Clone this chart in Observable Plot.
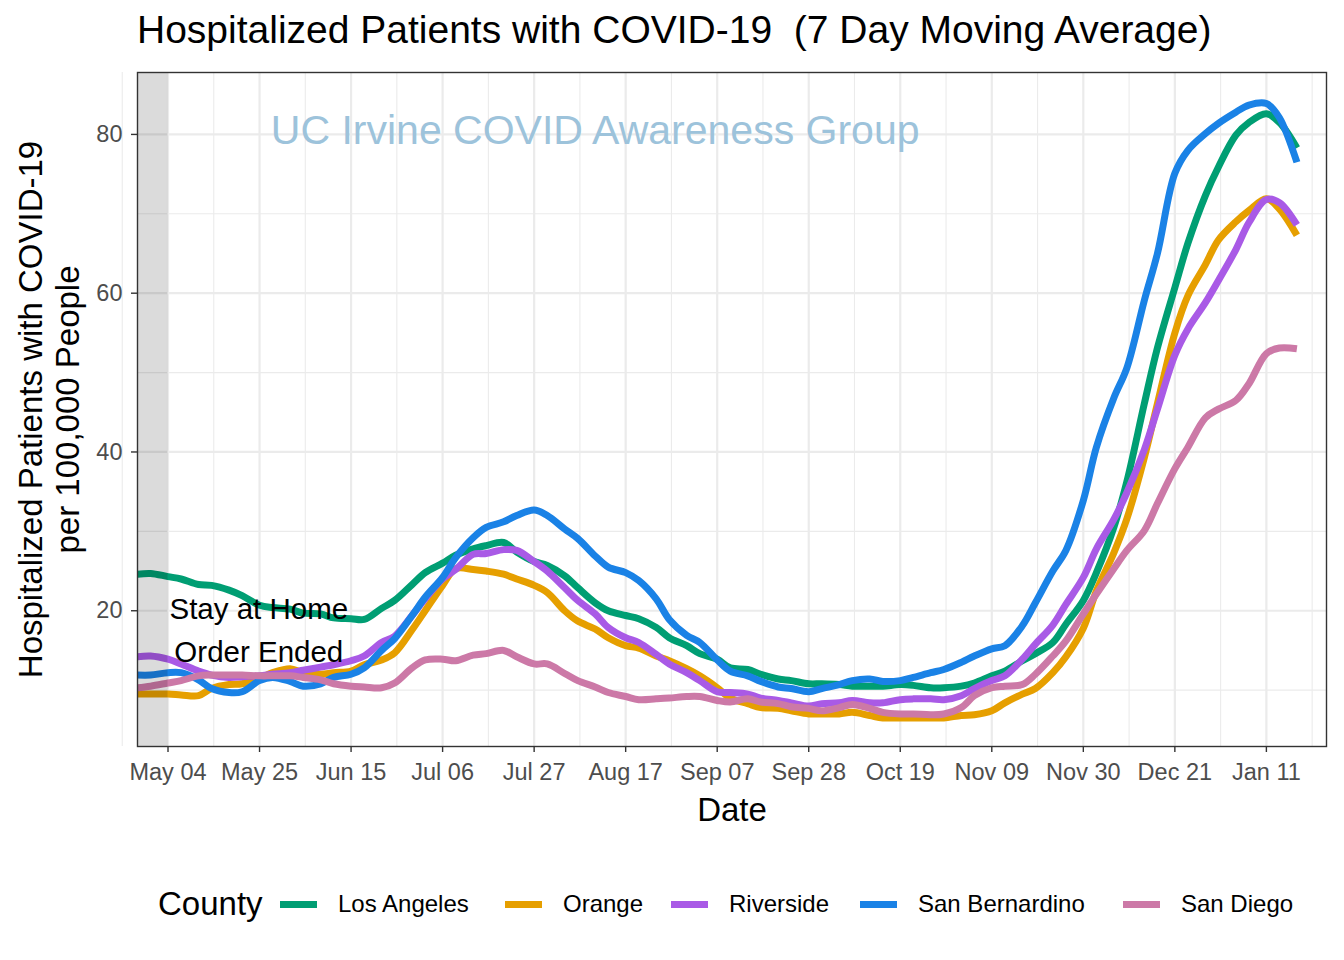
<!DOCTYPE html>
<html>
<head>
<meta charset="utf-8">
<script src="https://cdn.jsdelivr.net/npm/d3@7"></script>
<script src="https://cdn.jsdelivr.net/npm/@observablehq/plot@0.6"></script>
<style>
  html, body { margin: 0; padding: 0; background: #fff; }
  body { width: 1344px; height: 960px; overflow: hidden; font-family: "Liberation Sans", Arial, sans-serif; }
  #title { position: relative; height: 62px; }
  #title span { position: absolute; left: 137px; top: 10px; font-size: 39px; line-height: 1; color: #000; white-space: pre; }
  #legend { position: relative; height: 98px; }
  #legend .lt { position: absolute; font-size: 33px; line-height: 1; top: 25px; color: #000; }
  #legend .key { position: absolute; width: 37px; height: 7px; top: 39px; }
  #legend .lab { position: absolute; font-size: 24px; line-height: 1; top: 30px; color: #000; white-space: pre; }
</style>
</head>
<body>
<div id="title"><span>Hospitalized Patients with COVID-19  (7 Day Moving Average)</span></div>
<div id="chart"></div>
<div id="legend"></div>
<script>
// ---- data ----
const dates = [
  "2020-04-27","2020-04-30",
  "2020-05-04","2020-05-07","2020-05-11","2020-05-14","2020-05-18","2020-05-21","2020-05-25","2020-05-28",
  "2020-06-01","2020-06-04","2020-06-08","2020-06-11","2020-06-15","2020-06-18","2020-06-22","2020-06-25","2020-06-29",
  "2020-07-02","2020-07-06","2020-07-09","2020-07-13","2020-07-16","2020-07-20","2020-07-23","2020-07-27","2020-07-30",
  "2020-08-03","2020-08-06","2020-08-10","2020-08-13","2020-08-17","2020-08-20","2020-08-24","2020-08-27","2020-08-31",
  "2020-09-03","2020-09-07","2020-09-10","2020-09-14","2020-09-17","2020-09-21","2020-09-24","2020-09-28",
  "2020-10-01","2020-10-05","2020-10-08","2020-10-12","2020-10-15","2020-10-19","2020-10-22","2020-10-26","2020-10-29",
  "2020-11-02","2020-11-05","2020-11-09","2020-11-12","2020-11-16","2020-11-19","2020-11-23","2020-11-26","2020-11-30",
  "2020-12-03","2020-12-07","2020-12-10","2020-12-14","2020-12-17","2020-12-21","2020-12-24","2020-12-28","2020-12-31",
  "2021-01-04","2021-01-07","2021-01-11","2021-01-14","2021-01-18"
];

const counties = ["Los Angeles", "Orange", "Riverside", "San Bernardino", "San Diego"];
const countyColors = ["#009E73", "#E69F00", "#A95AE6", "#1A82E6", "#CC79A7"];

const losAngeles = [
  24.6,24.7,
  24.3,24.0,23.3,23.2,22.6,21.9,20.7,20.4,
  20.2,19.7,19.6,19.1,19.0,18.9,20.3,21.3,23.3,
  24.8,26.0,27.0,27.8,28.2,28.6,27.4,26.2,25.7,
  24.4,22.9,21.0,20.0,19.4,19.0,17.9,16.6,15.6,
  14.6,13.9,12.8,12.6,12.0,11.4,11.2,10.8,
  10.8,10.7,10.5,10.5,10.5,10.7,10.6,10.3,10.3,
  10.5,10.9,11.8,12.4,13.7,14.6,16.0,18.3,21.3,
  24.8,30.5,36.3,46.1,53.1,60.7,66.3,72.3,75.9,
  79.9,81.5,82.6,81.5,78.3
];
const orange = [
  9.5,9.5,
  9.5,9.4,9.3,10.2,10.7,10.8,11.5,12.2,
  12.7,12.2,12.0,12.2,12.4,13.2,13.8,14.7,17.6,
  20.0,23.2,25.3,25.2,25.0,24.6,24.0,23.2,22.3,
  20.0,18.7,17.7,16.6,15.6,15.3,14.3,13.7,12.7,
  11.8,10.3,9.0,8.3,7.8,7.7,7.4,7.0,
  7.0,7.0,7.2,6.8,6.5,6.5,6.5,6.5,6.5,
  6.8,6.9,7.4,8.4,9.5,10.2,12.2,14.2,17.8,
  22.5,27.3,31.6,39.3,46.1,55.0,59.7,63.6,66.7,
  69.0,70.4,71.9,70.6,67.3
];
const riverside = [
  14.2,14.3,
  13.9,13.3,12.4,11.9,11.6,11.7,11.8,12.0,
  12.2,12.5,12.9,13.2,13.7,14.3,16.0,16.8,19.4,
  21.5,24.0,25.2,27.1,27.2,27.7,27.6,26.2,25.0,
  22.9,21.3,19.6,17.9,16.6,16.0,14.5,13.3,12.2,
  11.2,9.8,9.7,9.5,9.0,8.7,8.4,8.0,
  8.3,8.4,8.7,8.4,8.4,8.8,8.9,8.9,8.8,
  9.3,10.2,11.2,11.8,13.9,15.8,18.2,20.8,24.2,
  27.8,31.5,34.9,40.3,45.4,52.2,55.5,58.8,61.6,
  65.5,68.9,71.8,71.4,68.6
];
const sanBernardino = [
  11.9,11.9,
  12.2,12.2,11.3,10.2,9.7,9.8,11.2,11.6,
  11.1,10.5,10.8,11.6,12.0,12.8,15.0,16.5,19.4,
  21.7,24.2,26.7,29.2,30.5,31.2,32.0,32.7,32.0,
  30.3,29.1,26.9,25.5,24.8,23.8,21.5,18.9,16.9,
  16.0,13.8,12.4,11.8,11.1,10.4,10.2,9.8,
  10.2,10.7,11.2,11.4,11.1,11.2,11.6,12.2,12.6,
  13.5,14.3,15.2,15.6,18.1,21.0,25.0,27.6,33.9,
  40.6,46.8,50.6,59.1,65.0,75.1,78.0,80.1,81.4,
  82.8,83.7,83.9,82.1,76.5
];
const sanDiego = [
  10.3,10.5,
  10.9,11.2,11.8,11.9,11.9,11.9,11.8,11.8,
  11.8,11.6,11.3,10.8,10.5,10.4,10.3,10.9,12.8,
  13.8,13.9,13.7,14.4,14.6,15.0,14.2,13.3,13.3,
  12.1,11.2,10.4,9.7,9.2,8.8,8.9,9.0,9.2,
  9.2,8.7,8.5,8.9,8.5,8.3,7.9,7.7,
  7.4,7.8,8.2,7.7,7.2,7.0,7.0,6.9,7.0,
  7.8,9.3,10.3,10.5,10.7,12.0,14.3,16.2,19.6,
  22.1,25.3,27.6,30.1,33.5,37.9,40.6,44.3,45.4,
  46.5,48.6,52.4,53.1,53.0
];

const xTicks = ["2020-05-04","2020-05-25","2020-06-15","2020-07-06","2020-07-27","2020-08-17","2020-09-07","2020-09-28","2020-10-19","2020-11-09","2020-11-30","2020-12-21","2021-01-11"];
const yTicks = [20, 40, 60, 80];
const yMinor = [10, 30, 50, 70];
const xDomain = ["2020-04-27T00:00Z", "2021-01-24T19:00Z"];
const yDomain = [2.9, 87.8];

const shadeStart = "2020-04-27";
const shadeEnd = "2020-05-04";

const watermarkText = "UC Irvine COVID Awareness Group";
const watermarkDate = "2020-08-10";
const watermarkValue = 80.5;

const noteText = "Stay at Home\nOrder Ended";
const noteDate = "2020-05-24T20:00Z";
const noteValue = 18.0;

// ---- build ----
const parse = s => new Date(s.length === 10 ? s + "T00:00Z" : s);
const series = [losAngeles, orange, riverside, sanBernardino, sanDiego];
const rows = [];
series.forEach((vals, i) => vals.forEach((v, j) => { if (j < dates.length) rows.push({county: counties[i], date: parse(dates[j]), value: v}); }));

const majorX = xTicks.map(parse);
const stepMs = majorX[1] - majorX[0];
const minorX = majorX.map(d => new Date(+d + stepMs / 2)).concat([new Date(+majorX[0] - stepMs / 2)]);

const chart = Plot.plot({
  width: 1344,
  height: 800,
  marginTop: 10,
  marginBottom: 116,
  marginLeft: 137,
  marginRight: 18,
  style: {fontFamily: "'Liberation Sans', Arial, sans-serif", background: "#fff"},
  x: {type: "utc", domain: xDomain.map(parse)},
  y: {domain: yDomain},
  color: {domain: counties, range: countyColors},
  marks: [
    Plot.ruleX(minorX, {stroke: "#EBEBEB", strokeWidth: 1.1}),
    Plot.ruleY(yMinor, {stroke: "#EBEBEB", strokeWidth: 1.1}),
    Plot.ruleX(majorX, {stroke: "#EBEBEB", strokeWidth: 2.2}),
    Plot.ruleY(yTicks, {stroke: "#EBEBEB", strokeWidth: 2.2}),
    Plot.line(rows, {x: "date", y: "value", z: "county", stroke: "county", strokeWidth: 7, curve: "catmull-rom", strokeLinejoin: "round", strokeLinecap: "butt"}),
    Plot.rect([{a: parse(shadeStart), b: parse(shadeEnd)}], {x1: "a", x2: "b", fill: "#000", fillOpacity: 0.14}),
    Plot.text([watermarkText], {text: d => d, x: () => parse(watermarkDate), y: () => watermarkValue, fontSize: 41, fill: "#9DC3DB"}),
    Plot.text([noteText], {text: d => d, x: () => parse(noteDate), y: () => noteValue, fontSize: 29.5, lineHeight: 1.45, fill: "#000"}),
    Plot.frame({stroke: "#333", strokeWidth: 1.4}),
    Plot.axisX({ticks: majorX, tickFormat: d3.utcFormat("%b %d"), tickSize: 6, tickPadding: 11, fontSize: 23.5, stroke: "#333", fill: "#4D4D4D", label: null, strokeWidth: 1.4}),
    Plot.axisY({ticks: yTicks, tickSize: 6, tickPadding: 9, fontSize: 23.5, stroke: "#333", fill: "#4D4D4D", label: null, strokeWidth: 1.4}),
    Plot.text(["Date"], {text: d => d, frameAnchor: "bottom", textAnchor: "middle", lineAnchor: "middle", dy: 64, fontSize: 33, fill: "#000"}),
    Plot.text(["Hospitalized Patients with COVID-19"], {text: d => d, frameAnchor: "left", textAnchor: "middle", lineAnchor: "middle", rotate: -90, dx: -106, fontSize: 33, fill: "#000"}),
    Plot.text(["per 100,000 People"], {text: d => d, frameAnchor: "left", textAnchor: "middle", lineAnchor: "middle", rotate: -90, dx: -69, fontSize: 33, fill: "#000"})
  ]
});
document.getElementById("chart").appendChild(chart);

const bad = series.map((s, i) => s.length !== dates.length ? counties[i] + ":" + s.length : null).filter(Boolean);
if (bad.length) console.error("length mismatch", dates.length, bad.join(","));

// ---- legend ----
const legendKeyLeft = [280, 505, 671, 860, 1123];
const legend = document.getElementById("legend");
const lt = document.createElement("span");
lt.className = "lt"; lt.style.left = "158px"; lt.textContent = "County";
legend.appendChild(lt);
counties.forEach((c, i) => {
  const k = document.createElement("span");
  k.className = "key"; k.style.left = legendKeyLeft[i] + "px"; k.style.background = countyColors[i];
  legend.appendChild(k);
  const l = document.createElement("span");
  l.className = "lab"; l.style.left = (legendKeyLeft[i] + 58) + "px"; l.textContent = c;
  legend.appendChild(l);
});
</script>
</body>
</html>
